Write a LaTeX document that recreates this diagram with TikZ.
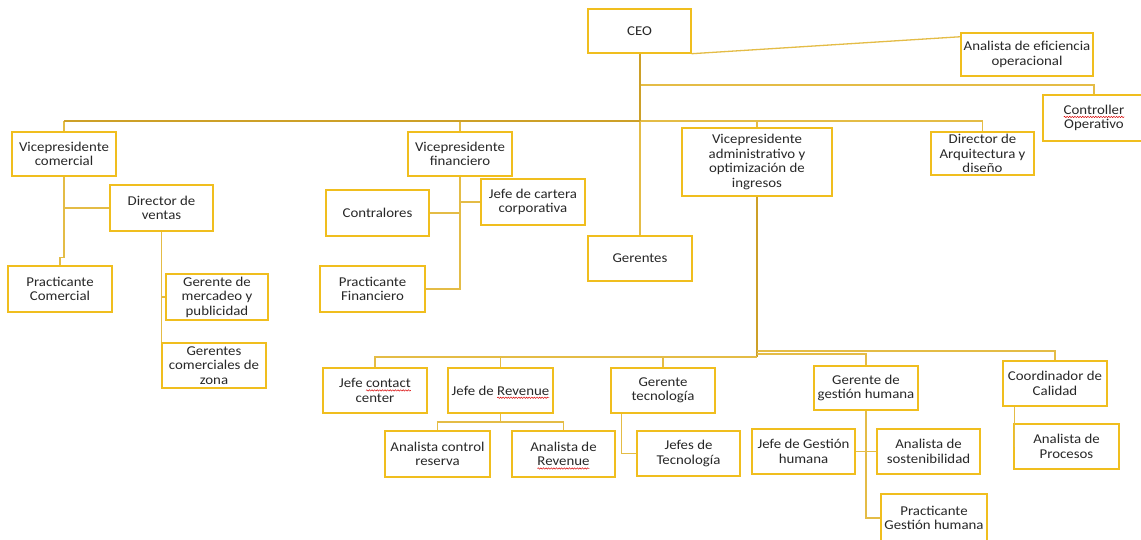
\documentclass[tikz,border=0pt]{standalone}
\usepackage{fontspec}
\setmainfont{Carlito}[FakeStretch=1.1]
\usepackage{xcolor}
\usetikzlibrary{calc,decorations.pathmorphing}
\definecolor{boxc}{RGB}{240,190,30}
\definecolor{connc}{RGB}{228,188,70}
\definecolor{trunkc}{RGB}{205,160,40}
\definecolor{txtc}{RGB}{40,40,40}
\newsavebox\spellbox
\newlength\spellwd
\newcommand\spellmark[1]{\sbox\spellbox{#1}\setlength\spellwd{\wd\spellbox}%
  \rlap{\tikz[overlay,baseline=0pt]\draw[red!85!black,line width=0.45pt,decorate,decoration={snake,amplitude=0.7pt,segment length=2.6pt}] (0,-2.6pt) -- (\spellwd,-2.6pt);}\usebox\spellbox}
\newcommand\orgbox[6]{\node[orgnode, minimum width={(#4-#2)*1pt}, minimum height={(#5-#3)*1pt}] (#1) at ({(#2+#4)/2},{-(#3+#5)/2}) {#6};}
\tikzset{
  orgnode/.style={draw=boxc, line width=1.4pt, fill=white, align=center, inner sep=0pt, text=txtc,
    font=\fontsize{13.5}{14.5}\selectfont},
  conn/.style={draw=connc, line width=1.3pt},
  trunk/.style={draw=trunkc, line width=2pt},
}
\begin{document}
\begin{tikzpicture}[x=1pt,y=1pt]
\useasboundingbox (0,0) rectangle (1141,-539);
\clip (0,0) rectangle (1141,-539);
\fill[white] (0,0) rectangle (1141,-539);
% coordinates for bus levels
\coordinate (busY) at (0,-121);
\coordinate (topY) at (0,-85);
\coordinate (lowY) at (0,-357);
\coordinate (lowYb) at (0,-354);
\coordinate (lowYc) at (0,-351);
\coordinate (revY) at (0,-422);
% boxes
\orgbox{ceo}{588}{9}{691}{53}{CEO}
\orgbox{ana}{961}{33}{1093}{76}{Analista de eficiencia\\operacional}
\orgbox{ctl}{1043}{95}{1145}{141}{\spellmark{Controller}\\Operativo}
\orgbox{vpc}{12}{132}{116}{176}{Vicepresidente\\comercial}
\orgbox{dv}{110}{185}{213}{231}{Director de\\ventas}
\orgbox{pc}{8}{266}{112}{312}{Practicante\\Comercial}
\orgbox{gm}{166}{274}{268}{320}{Gerente de\\mercadeo y\\publicidad}
\orgbox{gz}{162}{343}{266}{388}{Gerentes\\comerciales de\\zona}
\orgbox{vf}{408}{132}{512}{176}{Vicepresidente\\financiero}
\orgbox{ct}{326}{190}{429}{236}{Contralores}
\orgbox{jc}{481}{179}{585}{225}{Jefe de cartera\\corporativa}
\orgbox{pf}{320}{266}{425}{312}{Practicante\\Financiero}
\orgbox{ger}{588}{236}{692}{281}{Gerentes}
\orgbox{va}{682}{128}{832}{196}{Vicepresidente\\administrativo y\\optimización de\\ingresos}
\orgbox{da}{931}{132}{1034}{175}{Director de\\Arquitectura y\\diseño}
\orgbox{jcc}{323}{368}{427}{413}{Jefe \spellmark{contact}\\center}
\orgbox{jr}{448}{368}{553}{413}{Jefe de \spellmark{Revenue}}
\orgbox{gt}{611}{368}{715}{413}{Gerente\\tecnología}
\orgbox{ggh}{814}{366}{918}{410}{Gerente de\\gestión humana}
\orgbox{cc}{1003}{361}{1107}{406}{Coordinador de\\Calidad}
\orgbox{acr}{385}{431}{490}{477}{Analista control\\reserva}
\orgbox{ar}{512}{431}{615}{477}{Analista de\\\spellmark{Revenue}}
\orgbox{jt}{637}{431}{740}{476}{Jefes de\\Tecnología}
\orgbox{jgh}{752}{429}{855}{474}{Jefe de Gestión\\humana}
\orgbox{as}{877}{429}{980}{474}{Analista de\\sostenibilidad}
\orgbox{pgh}{881}{494}{987}{542}{Practicante\\Gestión humana}
\orgbox{ap}{1014}{424}{1119}{469}{Analista de\\Procesos}
% connectors: CEO level
\draw[conn] (ceo.south east) -- ($(ana.north west)!0.1!(ana.south west)$);
\draw[conn] (ceo.south |- topY) -| (ctl.north);
\draw[conn] (vpc.north |- busY) -- (da.north |- busY);
\draw[conn] (vpc.north |- busY) -- (vpc.north);
\draw[conn] (vf.north |- busY) -- (vf.north);
\draw[conn] (ger.north |- busY) -- (ger.north);
\draw[conn] (va.north |- busY) -- (va.north);
\draw[conn] (da.north |- busY) -- (da.north);
\draw[trunk] (ceo.south) -- (ceo.south |- busY);
\draw[trunk] (vpc.north |- busY) -- (ceo.south |- busY);
% VP comercial
\coordinate (vpcj) at ($(vpc.south)+(0,-81)$);
\draw[conn] (vpc.south) -- (vpcj) -| (pc.north);
\draw[conn] (dv.west) -- (vpc.south |- dv.west);
\draw[conn] (dv.south) -- (dv.south |- gz.north);
\draw[conn] (dv.south |- gm.west) -- (gm.west);
% VP financiero
\draw[conn] (vf.south) |- (pf.east);
\draw[conn] (ct.east) -- (vf.south |- ct.east);
\draw[conn] (jc.west) -- (vf.south |- jc.west);
% VP administrativo
\draw[trunk] (va.south) -- (va.south |- lowY);
\draw[conn] (jcc.north) -- (jcc.north |- lowY) -- (va.south |- lowY);
\draw[conn] (jr.north) -- (jr.north |- lowY);
\draw[conn] (gt.north) -- (gt.north |- lowY);
\draw[conn] (va.south |- lowYb) -| (ggh.north);
\draw[conn] (va.south |- lowYc) -| (cc.north);
% Jefe de Revenue
\draw[conn] (jr.south) -- (jr.south |- revY);
\draw[conn] (acr.north) -- (acr.north |- revY) -- (ar.north |- revY) -- (ar.north);
% Gerente tecnologia
\coordinate (gtx) at ($(gt.south west)+(11,0)$);
\draw[conn] (gtx) |- (jt.west);
% Gestion humana
\draw[conn] (ggh.south) |- (pgh.west);
\draw[conn] (jgh.east) -- (as.west);
% Coordinador de Calidad
\coordinate (ccx) at ($(cc.south west)+(12,0)$);
\draw[conn] (ccx) -- (ccx |- ap.west);
\end{tikzpicture}
\end{document}
